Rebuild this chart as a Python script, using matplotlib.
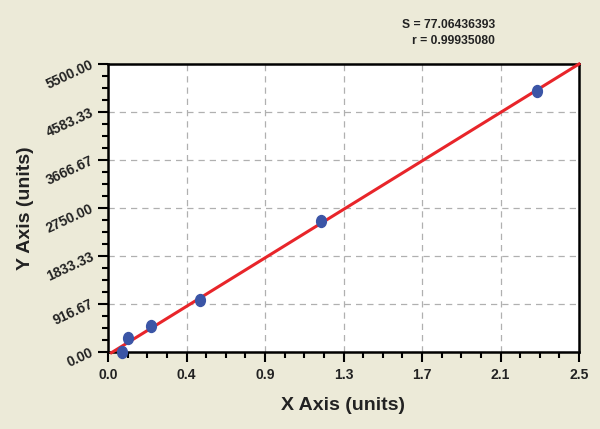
import matplotlib
matplotlib.use("Agg")
import matplotlib.pyplot as plt
import numpy as np
from matplotlib.ticker import FixedLocator, AutoMinorLocator
from matplotlib.path import Path
from matplotlib.transforms import Affine2D

x_vals = [0.076, 0.106, 0.227, 0.490, 1.133, 2.277]
y_vals = [0.0, 256.0, 491.0, 988.0, 2499.0, 4990.0]
fit_slope = 2224.0
fit_intercept = -60.0
fit_x = [0.018, 2.5]

x_ticks = [0, 2.5/6, 5/6, 1.25, 10/6, 12.5/6, 2.5]
x_tick_labels = ["0.0", "0.4", "0.9", "1.3", "1.7", "2.1", "2.5"]
y_ticks = [0, 916.67, 1833.33, 2750.0, 3666.67, 4583.33, 5500.0]
y_tick_labels = ["0.00", "916.67", "1833.33", "2750.00", "3666.67", "4583.33", "5500.00"]
stats_text = "S = 77.06436393\nr = 0.99935080"

plt.rcParams['font.family'] = ['Liberation Sans', 'DejaVu Sans']
bg = '#ecead8'
fig = plt.figure(figsize=(6.0, 4.29), dpi=100, facecolor=bg)
ax = fig.add_axes([108/600, 1-351.7/429, 471/600, 287.7/429])
ax.set_facecolor('white')

ax.set_xlim(0, 2.5)
ax.set_ylim(0, 5500)
ax.xaxis.set_major_locator(FixedLocator(x_ticks))
ax.yaxis.set_major_locator(FixedLocator(y_ticks))
ax.set_xticklabels(x_tick_labels, fontsize=10, fontweight='bold', color='#222222')
ax.set_yticklabels(y_tick_labels, fontsize=10, fontweight='bold', rotation=25,
                   ha='right', va='center', rotation_mode='anchor', color='#222222')
ax.xaxis.set_minor_locator(AutoMinorLocator(4))
ax.yaxis.set_minor_locator(AutoMinorLocator(4))
ax.tick_params(which='major', direction='out', length=7, width=1.5, color='black')
ax.tick_params(which='minor', direction='out', length=4.5, width=1.5, color='black')
ax.tick_params(axis='x', which='major', pad=5)
ax.tick_params(axis='y', which='major', pad=4)

ax.grid(True, which='major', linestyle=(0, (5, 4)), color='#b0b0b0', linewidth=0.9)
ax.set_axisbelow(True)
for sp in ax.spines.values():
    sp.set_linewidth(1.8)
    sp.set_color('black')

circ = Path.unit_circle()
ell = Path(Affine2D().scale(0.82, 1.0).transform(circ.vertices), circ.codes)

fx = np.array(fit_x)
ax.plot(fx, fit_slope*fx + fit_intercept, color='#e8252a', linewidth=2.2, zorder=3, clip_on=False)
ax.plot(x_vals, y_vals, linestyle='none', marker=ell, markersize=8.6,
        color='#3b55a6', zorder=4, clip_on=False)

ax.set_xlabel("X Axis (units)", fontsize=14, fontweight='bold', color='#222222')
ax.set_ylabel("Y Axis (units)", fontsize=14, fontweight='bold', color='#222222')
ax.xaxis.set_label_coords(343/471, -(406-351.7)/287.7)
ax.yaxis.set_label_coords(-(108-25)/471, 0.5)
ax.xaxis.label.set_va('center')
ax.yaxis.label.set_va('center')
ax.xaxis.label.set_ha('center')
ax.xaxis.set_label_coords((343-108)/471, -(406-351.7)/287.7)

fig.text(495/600, 1-33/429, stats_text, ha='right', va='center', fontsize=8.7,
         fontweight='bold', color='#222222', linespacing=1.4)

fig.savefig("out.png", dpi=100, facecolor=bg)
